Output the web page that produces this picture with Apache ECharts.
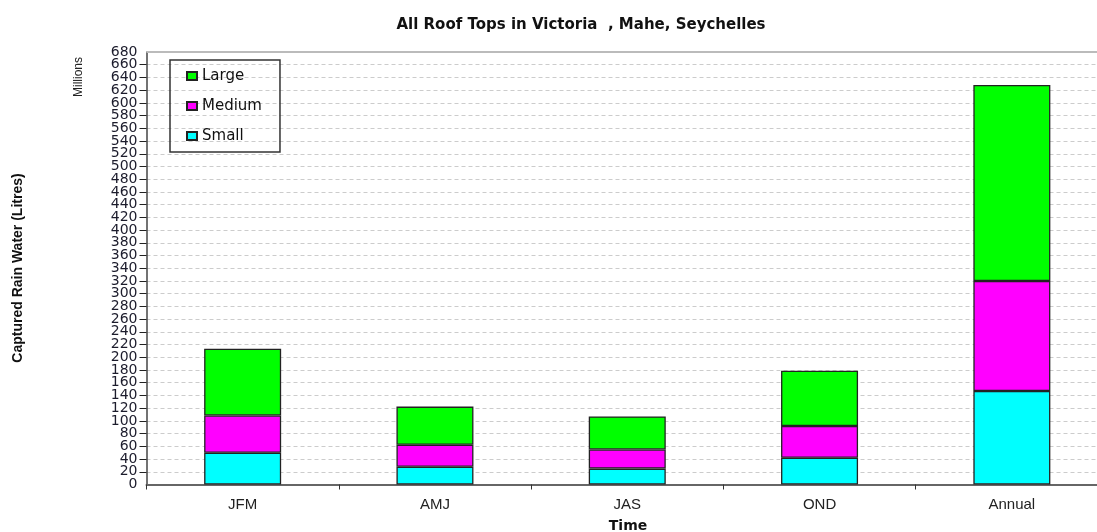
<!DOCTYPE html>
<html>
<head>
<meta charset="utf-8">
<script src="https://cdn.jsdelivr.net/npm/echarts@6/dist/echarts.min.js"></script>
<style>html,body{margin:0;padding:0;background:#fff}#c{width:1097px;height:532px}</style>
</head>
<body>
<div id="c"></div>
<script>
var categories = ['JFM', 'AMJ', 'JAS', 'OND', 'Annual'];
var smallValues = [50, 28, 25, 42, 147];
var mediumValues = [58.5, 34.5, 30, 50, 173];
var largeValues = [105, 60, 52, 87, 308];
var yMin = 0, yMax = 680, yStep = 20;

var chart = echarts.init(document.getElementById('c'), null, {renderer: 'canvas'});
var font = 'Arial, "Liberation Sans", sans-serif';
var wide = '"DejaVu Sans", sans-serif';
var barBorder = {borderColor: '#222', borderWidth: 1.3};
var yLabelStyle = {fontFamily: wide, fontSize: 14, color: '#1c1c2c', margin: 9};
chart.setOption({
  animation: false,
  backgroundColor: '#fff',
  title: {
    text: 'All Roof Tops in Victoria  , Mahe, Seychelles',
    left: 576, top: 13, textAlign: 'center',
    textStyle: {fontFamily: wide, fontSize: 15, fontWeight: 'bold', color: '#111'}
  },
  legend: {
    orient: 'vertical', left: 170, top: 60,
    data: ['Large', 'Medium', 'Small'],
    icon: 'rect',
    itemWidth: 10, itemHeight: 8, itemGap: 14,
    padding: [8, 18, 8, 16],
    borderColor: '#333', borderWidth: 1.5,
    textStyle: {fontFamily: wide, fontSize: 15, lineHeight: 16, color: '#111'}
  },
  grid: {left: 146.5, top: 52, right: -11, height: 432.5, outerBoundsMode: 'none', containLabel: false},
  xAxis: {
    type: 'category', data: categories,
    axisLine: {lineStyle: {color: '#666', width: 2}},
    axisTick: {show: true, length: 5, lineStyle: {color: '#333'}},
    axisLabel: {fontFamily: font, fontSize: 15, color: '#222', margin: 13}
  },
  yAxis: [
    {
      type: 'value', position: 'left', min: yMin, max: yMax, interval: yStep,
      axisLine: {show: true, lineStyle: {color: '#444', width: 1.5}},
      axisTick: {show: true, length: 7, lineStyle: {color: '#222'}},
      axisLabel: Object.assign({showMinLabel: false, showMaxLabel: false}, yLabelStyle),
      splitLine: {show: true, lineStyle: {color: '#cccccc', type: [4, 3], width: 1}}
    },
    {
      type: 'value', position: 'left', offset: 0, min: yMin, max: yMax, interval: yMax - yMin,
      axisLine: {show: false}, axisTick: {show: false}, splitLine: {show: false},
      axisLabel: Object.assign({showMinLabel: true, showMaxLabel: true}, yLabelStyle)
    }
  ],
  series: [
    {name: 'Small', type: 'bar', stack: 'a', data: smallValues, barWidth: 77,
     itemStyle: Object.assign({color: '#00ffff'}, barBorder),
     markLine: {silent: true, symbol: 'none', label: {show: false},
       lineStyle: {color: '#bbbbbb', type: 'solid', width: 2}, data: [{yAxis: yMax}]}},
    {name: 'Medium', type: 'bar', stack: 'a', data: mediumValues, barWidth: 77,
     itemStyle: Object.assign({color: '#ff00ff'}, barBorder)},
    {name: 'Large', type: 'bar', stack: 'a', data: largeValues, barWidth: 77,
     itemStyle: Object.assign({color: '#00ff00'}, barBorder)}
  ],
  graphic: [
    {type: 'text', x: 79, y: 77, rotation: Math.PI / 2,
     style: {text: 'Millions', font: '12px ' + font, fill: '#222', textAlign: 'center', textVerticalAlign: 'middle'}},
    {type: 'text', x: 18, y: 268, rotation: Math.PI / 2,
     style: {text: 'Captured Rain Water (Litres)', font: 'bold 14px ' + font, fill: '#111', textAlign: 'center', textVerticalAlign: 'middle'}},
    {type: 'text', x: 628, y: 526,
     style: {text: 'Time', font: 'bold 14px ' + wide, fill: '#111', textAlign: 'center', textVerticalAlign: 'middle'}}
  ]
});
</script>
</body>
</html>
